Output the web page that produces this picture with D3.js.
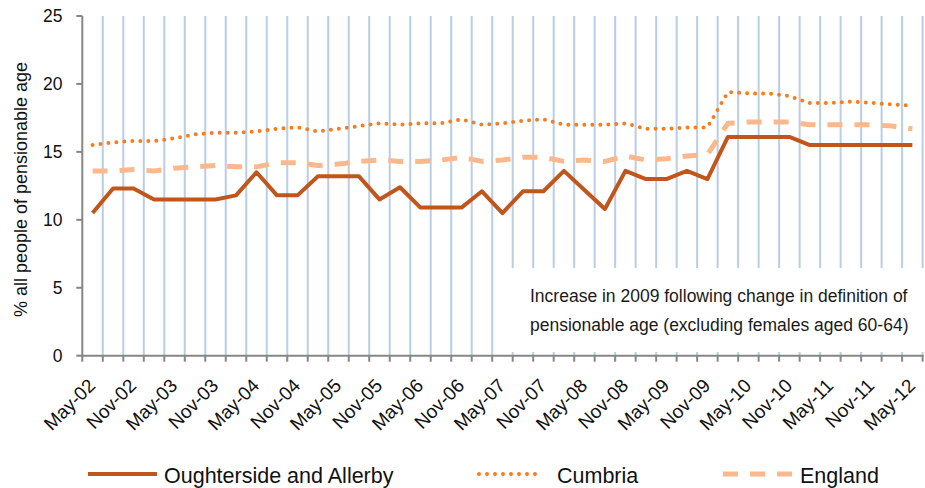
<!DOCTYPE html>
<html>
<head>
<meta charset="utf-8">
<script src="https://cdn.jsdelivr.net/npm/d3@7"></script>
<style>
  html, body { margin: 0; padding: 0; background: #fff; }
  svg { display: block; font-family: "Liberation Sans", Arial, sans-serif; }
</style>
</head>
<body>
<svg id="chart" width="925" height="488"></svg>
<script>
const categories = [
  "May-02","Aug-02","Nov-02","Feb-03","May-03","Aug-03","Nov-03","Feb-04",
  "May-04","Aug-04","Nov-04","Feb-05","May-05","Aug-05","Nov-05","Feb-06",
  "May-06","Aug-06","Nov-06","Feb-07","May-07","Aug-07","Nov-07","Feb-08",
  "May-08","Aug-08","Nov-08","Feb-09","May-09","Aug-09","Nov-09","Feb-10",
  "May-10","Aug-10","Nov-10","Feb-11","May-11","Aug-11","Nov-11","Feb-12","May-12"
];
const oughterside = [
  10.5,12.3,12.3,11.5,11.5,11.5,11.5,11.8,13.5,11.8,11.8,13.2,13.2,13.2,11.5,12.4,
  10.9,10.9,10.9,12.1,10.5,12.1,12.1,13.6,12.2,10.8,13.6,13.0,13.0,13.6,13.0,16.1,
  16.1,16.1,16.1,15.5,15.5,15.5,15.5,15.5,15.5
];
const cumbria = [
  15.5,15.7,15.8,15.8,16.0,16.3,16.4,16.4,16.5,16.7,16.8,16.5,16.7,16.9,17.1,17.0,
  17.1,17.1,17.4,17.0,17.1,17.3,17.4,17.0,17.0,17.0,17.1,16.7,16.7,16.8,16.8,19.4,
  19.3,19.3,19.1,18.6,18.6,18.7,18.6,18.5,18.4
];
const england = [
  13.6,13.6,13.7,13.6,13.8,13.9,14.0,13.9,13.9,14.2,14.2,14.0,14.1,14.3,14.4,14.3,
  14.3,14.4,14.6,14.3,14.4,14.6,14.6,14.3,14.4,14.3,14.7,14.4,14.5,14.7,14.8,17.1,
  17.2,17.2,17.2,17.0,17.0,17.0,17.0,16.9,16.7
];
const yTicks = [0, 5, 10, 15, 20, 25];
const seriesNames = ["Oughterside and Allerby", "Cumbria", "England"];
const yTitle = "% all people of pensionable age";
const noteLines = [
  "Increase in 2009 following change in definition of",
  "pensionable age (excluding females aged 60-64)"
];

(function () {
const styles = [
  { color: "#C0561C", width: 4, dash: null, cap: "butt" },
  { color: "#F47D20", width: 4, dash: "0,8", cap: "round" },
  { color: "#FAB88C", width: 5, dash: "15,12", cap: "butt" }
];
const seriesData = [oughterside, cumbria, england];

const svg = d3.select("#chart");
const pL = 82.3, pR = 922.6, pT = 16, pB = 355.7;

const x = d3.scaleBand().domain(categories).range([pL, pR]).paddingInner(0).paddingOuter(0);
const y = d3.scaleLinear().domain([0, 25]).range([pB, pT]);

const boundaries = categories.map((c) => x(c)).concat([pR]);
svg.append("g").selectAll("line").data(boundaries.slice(1)).join("line")
  .attr("x1", d => d).attr("x2", d => d)
  .attr("y1", pT).attr("y2", pB)
  .attr("stroke", "#B9CDE5").attr("stroke-width", 2);

svg.append("rect")
  .attr("x", 503).attr("y", 268).attr("width", 422).attr("height", 84)
  .attr("fill", "#fff");
svg.append("g").selectAll("text").data(noteLines).join("text")
  .attr("x", 530).attr("y", (d, i) => 302 + i * 29)
  .attr("font-size", 17.5).attr("fill", "#1a1a1a")
  .text(d => d);

const axisColor = "#868686";
svg.append("line").attr("x1", pL).attr("x2", pL).attr("y1", pT).attr("y2", pB)
  .attr("stroke", axisColor).attr("stroke-width", 2);
svg.append("line").attr("x1", pL - 1).attr("x2", pR + 1).attr("y1", pB).attr("y2", pB)
  .attr("stroke", axisColor).attr("stroke-width", 2);

svg.append("g").selectAll("line").data(yTicks).join("line")
  .attr("x1", pL - 6).attr("x2", pL).attr("y1", d => y(d)).attr("y2", d => y(d))
  .attr("stroke", axisColor).attr("stroke-width", 2);
svg.append("g").selectAll("text").data(yTicks).join("text")
  .attr("x", 62.5).attr("y", d => y(d)).attr("dy", "0.36em")
  .attr("text-anchor", "end").attr("font-size", 17.5).attr("fill", "#111")
  .text(d => d);

svg.append("g").selectAll("line").data(boundaries).join("line")
  .attr("x1", d => d).attr("x2", d => d).attr("y1", pB).attr("y2", pB + 6)
  .attr("stroke", axisColor).attr("stroke-width", 2);

const shown = categories.filter((c, i) => i % 2 === 0);
svg.append("g").selectAll("text").data(shown).join("text")
  .attr("text-anchor", "end")
  .attr("font-size", 19)
  .attr("fill", "#111")
  .attr("transform", d => `translate(${x(d) + x.bandwidth() / 2 + 4},${pB + 31}) rotate(-45)`)
  .text(d => d);

svg.append("text")
  .attr("transform", `translate(26.5,189.5) rotate(-90)`)
  .attr("text-anchor", "middle").attr("font-size", 18).attr("fill", "#111")
  .text(yTitle);

const line = d3.line()
  .x((d, i) => x(categories[i]) + x.bandwidth() / 2)
  .y(d => y(d));
[2, 1, 0].forEach(k => {
  const s = styles[k];
  svg.append("path").datum(seriesData[k])
    .attr("d", line)
    .attr("fill", "none")
    .attr("stroke", s.color)
    .attr("stroke-width", s.width)
    .attr("stroke-linecap", s.cap)
    .attr("stroke-linejoin", "round")
    .attr("stroke-dasharray", s.dash);
});

const legendItems = [
  { x1: 88, x2: 157, tx: 164 },
  { x1: 479, x2: 540, tx: 557 },
  { x1: 723, x2: 792, tx: 800 }
];
const lg = svg.append("g");
legendItems.forEach((it, k) => {
  const s = styles[k];
  lg.append("line").attr("x1", it.x1).attr("x2", it.x2).attr("y1", 474).attr("y2", 474)
    .attr("stroke", s.color).attr("stroke-width", s.width)
    .attr("stroke-linecap", s.cap).attr("stroke-dasharray", s.dash);
  lg.append("text").attr("x", it.tx).attr("y", 482.5).attr("font-size", 21.5).attr("fill", "#111")
    .text(seriesNames[k]);
});
})();
</script>
</body>
</html>
